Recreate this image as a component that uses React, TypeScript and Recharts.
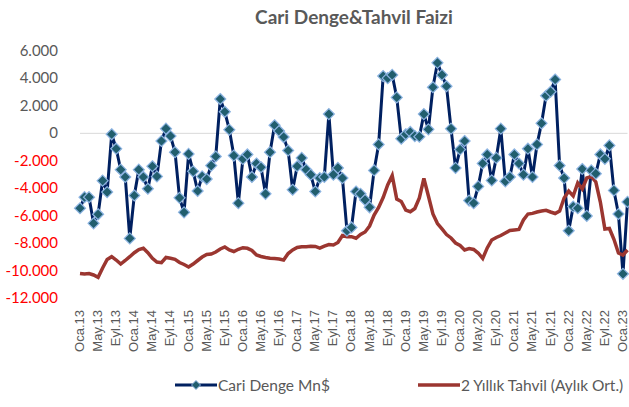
import { LineChart, Line, XAxis, YAxis, ReferenceLine, Legend } from 'recharts';

const MONTHS = ['Oca', 'Şub', 'Mar', 'Nis', 'May', 'Haz', 'Tem', 'Ağu', 'Eyl', 'Eki', 'Kas', 'Ara'];
const YEARS = ['13', '14', '15', '16', '17', '18', '19', '20', '21', '22', '23'];

// Cari denge, milyon $ (Oca.13 - Şub.23)
const CARI = [
  -5460, -4650, -4650, -6560, -5900, -3450, -4280, -70, -1120, -2650, -3180, -7660,
  -4530, -2650, -3180, -4040, -2400, -3140, -560, 340, -200, -1370, -4700, -5760,
  -1500, -2770, -4200, -3140, -3330, -2350, -1690, 2500, 1570, 270, -1620, -5090,
  -1860, -1540, -3180, -2200, -2470, -4410, -1370, 590, 170, -270, -1250, -4110,
  -2400, -1790, -2650, -3010, -4240, -3260, -3180, 1400, -3010, -2520, -3260, -7100,
  -6860, -4240, -4410, -4850, -5390, -2700, -810, 4170, 4020, 4260, 2620, -390,
  -70, 100, -200, -240, 1400, 290, 3360, 5140, 4260, 3430, 340, -2520,
  -1180, -560, -4900, -5090, -3870, -2200, -1540, -3430, -1790, 340, -3500, -3180,
  -1540, -2200, -3010, -1120, -3180, -810, 730, 2740, 3030, 3920, -2350, -3260,
  -7100, -5340, -5460, -2600, -6020, -2700, -2940, -1540, -1860, -880, -4160, -5880,
  -10240, -5000,
];

// 2 yıllık tahvil faizi, aylık ortalama (%)
const TAHVIL = [
  4.96, 4.86, 4.96, 4.66, 4.19, 6.07, 7.79, 8.36, 7.69, 6.88, 7.59, 8.36,
  9.17, 9.82, 10.06, 9.17, 8.04, 7.29, 7.15, 8.2, 8.04, 7.83, 7.19, 6.78,
  6.28, 6.88, 7.59, 8.3, 8.81, 8.91, 9.31, 9.92, 10.32, 9.72, 9.41, 9.86,
  10.18, 10.06, 9.62, 8.7, 8.4, 8.2, 8.04, 8.0, 7.89, 7.69, 9.0, 9.72,
  10.22, 10.38, 10.38, 10.47, 10.43, 10.1, 10.5, 10.83, 10.73, 11.23, 12.65, 12.41,
  12.41, 12.09, 12.85, 13.36, 14.57, 16.8, 18.32, 20.34, 22.87, 24.8, 20.04, 19.53,
  17.81, 17.47, 18.12, 20.24, 24.2, 20.65, 17.0, 15.08, 13.97, 12.85, 12.15, 11.13,
  10.63, 9.72, 10.02, 9.82, 9.11, 8.0, 10.14, 11.74, 12.25, 12.65, 13.16, 13.66,
  13.77, 13.87, 15.79, 17.0, 17.13, 17.41, 17.61, 17.75, 17.41, 17.1, 17.61, 20.24,
  21.66, 20.65, 23.28, 22.06, 24.29, 24.6, 23.48, 19.43, 13.97, 14.07, 11.88, 9.11,
  8.7, 9.72,
];

const Y_TICKS = [6000, 4000, 2000, 0, -2000, -4000, -6000, -8000, -10000, -12000];

const data = CARI.map((v, i) => ({
  m: `${MONTHS[i % 12]}.${YEARS[Math.floor(i / 12)]}`,
  cari: v,
  tahvil: TAHVIL[i],
}));

const NAVY = '#002060';
const RED = '#9B3630';
const GRAY = '#595959';
const CALIBRI = 'Lato, "Open Sans", sans-serif';

const fmt = (v: number) => {
  const s = Math.abs(v).toString().replace(/\B(?=(\d{3})+(?!\d))/g, '.');
  return v < 0 ? `-${s}` : s;
};

function YTick({ x, y, payload }: any) {
  const v = payload.value as number;
  return (
    <text x={x - 22} y={y} dy={5} textAnchor="end" fill={v < 0 ? '#FF0000' : GRAY} fontFamily={CALIBRI} fontSize={15}>
      {fmt(v)}
    </text>
  );
}

function XTick({ x, y, payload }: any) {
  const ty = y + 12;
  return (
    <text x={x} y={ty} dy={4} transform={`rotate(-90, ${x}, ${ty})`} textAnchor="end" fill={GRAY} fontFamily='"Liberation Sans", Arial, sans-serif' fontSize={13}>
      {payload.value}
    </text>
  );
}

const diamond = (cx: number, cy: number, r: number) =>
  `${cx},${cy - r} ${cx + r},${cy} ${cx},${cy + r} ${cx - r},${cy}`;

const renderDot = (p: any) => {
  const { cx, cy, index } = p;
  if (cx == null || cy == null) return <g key={index} />;
  return <polygon key={index} points={diamond(cx, cy, 5.5)} fill="#215E6E" stroke="#8DB4E2" strokeWidth={1.2} />;
};

function LegendBox() {
  const text = { fontFamily: CALIBRI, fontSize: 15.5, color: GRAY, position: 'absolute' as const, top: 0, lineHeight: '22px', whiteSpace: 'nowrap' as const };
  return (
    <div style={{ position: 'relative', width: 629, height: 22 }}>
      <svg width={629} height={22} style={{ position: 'absolute', left: 0, top: 0 }}>
        <line x1={175} x2={217} y1={11} y2={11} stroke={NAVY} strokeWidth={3} />
        <polygon points={diamond(196, 11, 4.5)} fill="#215E6E" stroke="#8DB4E2" strokeWidth={1} />
        <line x1={418} x2={460} y1={11} y2={11} stroke={RED} strokeWidth={3.5} />
      </svg>
      <span style={{ ...text, left: 218 }}>Cari Denge Mn$</span>
      <span style={{ ...text, left: 461 }}>2 Yıllık Tahvil (Aylık Ort.)</span>
    </div>
  );
}

export default function App() {
  return (
    <div style={{ position: 'absolute', left: 0, top: 0, width: 629, height: 407, background: '#fff' }}>
      <div style={{ position: 'absolute', left: 80, width: 548, top: 5, textAlign: 'center', fontFamily: CALIBRI, fontWeight: 700, fontSize: 19, color: GRAY }}>
        Cari Denge&amp;Tahvil Faizi
      </div>
      <LineChart width={629} height={407} data={data} margin={{ top: 51, right: 1.5, left: 0, bottom: 0 }}>
        <XAxis dataKey="m" interval={3} height={87} axisLine={false} tickLine={false} tickSize={0} tickMargin={0} tick={<XTick />} />
        <YAxis yAxisId="l" domain={[-12000, 6000]} ticks={Y_TICKS} width={80} axisLine={false} tickLine={false} tickSize={0} tickMargin={0} tick={<YTick />} />
        <YAxis yAxisId="r" orientation="right" domain={[0, 50]} hide />
        <ReferenceLine yAxisId="l" y={0} stroke="#D9D9D9" strokeWidth={1} />
        <Line yAxisId="l" dataKey="cari" stroke={NAVY} strokeWidth={3} dot={renderDot} activeDot={false} isAnimationActive={false} />
        <Line yAxisId="r" dataKey="tahvil" stroke={RED} strokeWidth={3.5} dot={false} activeDot={false} isAnimationActive={false} />
        <Legend verticalAlign="bottom" content={<LegendBox />} wrapperStyle={{ left: 0, width: 629, bottom: 11 }} />
      </LineChart>
    </div>
  );
}
